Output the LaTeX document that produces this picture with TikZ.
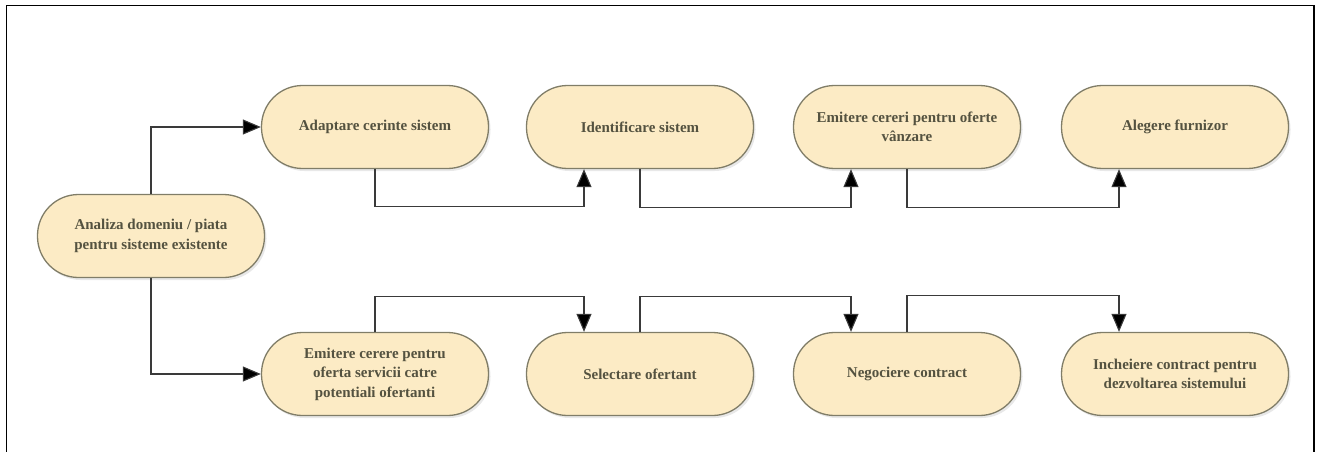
\documentclass[tikz,border=0pt]{standalone}
\usepackage{fontspec}
\setmainfont{Liberation Serif}
\usetikzlibrary{arrows.meta,shadows}
\definecolor{boxfill}{HTML}{FCEBC5}
\definecolor{boxline}{HTML}{807D68}
\definecolor{boxtext}{HTML}{545240}
\definecolor{wire}{HTML}{3A3A3A}
\tikzset{
  stadium/.style={draw=boxline, line width=1.3pt, fill=boxfill,
    rounded corners=41pt, minimum width=227pt, minimum height=83pt,
    align=center, text=boxtext, font=\bfseries\fontsize{15}{19.5}\selectfont,
    drop shadow={opacity=0.18, shadow xshift=2pt, shadow yshift=-2.5pt}},
  link/.style={draw=wire, line width=1.1pt,
    -{Triangle[length=18pt, width=15pt, fill=black]}},
}
\begin{document}
\begin{tikzpicture}[x=1pt, y=-1pt]
  \useasboundingbox (0,0) rectangle (1320,452);
  % outer frame, open at the foot of the page
  \draw[line width=1.8pt] (6.5,470) -- (6.5,5.5) -- (1314,5.5) -- (1314,470);

  % process steps
  \node[stadium] (an) at (151,236) {Analiza domeniu / piata\\pentru sisteme existente};

  \node[stadium] (ad) at (375,127) {Adaptare cerinte sistem};
  \node[stadium] (id) at (640,127) {Identificare sistem};
  \node[stadium] (ec) at (907,127) {Emitere cereri pentru oferte\\vânzare};
  \node[stadium] (al) at (1175,127) {Alegere furnizor};

  \node[stadium] (es) at (375,374) {Emitere cerere pentru\\oferta servicii catre\\potentiali ofertanti};
  \node[stadium] (se) at (640,374) {Selectare ofertant};
  \node[stadium] (ne) at (907,374) {Negociere contract};
  \node[stadium] (in) at (1175,374) {Incheiere contract pentru\\dezvoltarea sistemului};

  % branches from the analysis step
  \draw[link] (an.north) |- (ad.west);
  \draw[link] (an.south) |- (es.west);

  % upper row: leave from the bottom, enter from below
  \draw[link] (ad.south) -- ++(0,37) -| ([xshift=-56pt]id.south);
  \draw[link] (id.south) -- ++(0,38) -| ([xshift=-56pt]ec.south);
  \draw[link] (ec.south) -- ++(0,38) -| ([xshift=-56pt]al.south);

  % lower row: leave from the top, enter from above
  \draw[link] (es.north) -- ++(0,-35) -| ([xshift=-56pt]se.north);
  \draw[link] (se.north) -- ++(0,-35) -| ([xshift=-56pt]ne.north);
  \draw[link] (ne.north) -- ++(0,-36) -| ([xshift=-56pt]in.north);
\end{tikzpicture}
\end{document}
